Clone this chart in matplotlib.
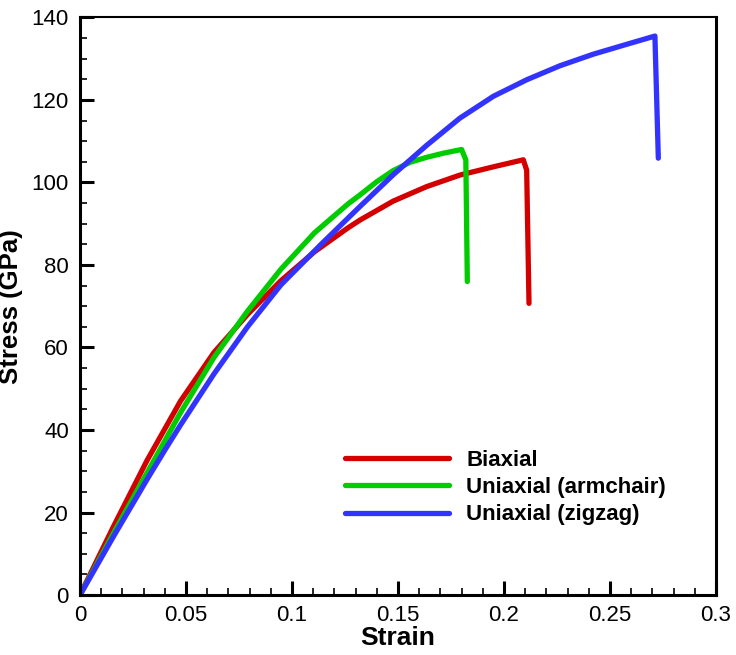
"""Stress-strain curves for biaxial and uniaxial loading"""

import matplotlib
matplotlib.use('Agg')
import matplotlib.pyplot as plt
from matplotlib.ticker import MultipleLocator, FuncFormatter

plt.rcParams['font.family'] = ['Liberation Sans', 'DejaVu Sans']

##
# DATA
biaxial_strain = [0.0, 0.0158, 0.0316, 0.0474, 0.0632, 0.079, 0.0948, 0.1106,
                  0.1264, 0.1321, 0.1478, 0.1635, 0.1792, 0.195, 0.2091,
                  0.2107, 0.2118]
biaxial_stress = [0.0, 16.6, 32.6, 47.0, 58.8, 68.0, 76.2, 83.2,
                  89.0, 90.9, 95.5, 99.0, 101.8, 103.8, 105.5,
                  103.0, 70.7]

armchair_strain = [0.0, 0.0158, 0.0316, 0.0474, 0.0632, 0.079, 0.0948, 0.1106,
                   0.1264, 0.1321, 0.14, 0.1478, 0.1557, 0.1635, 0.1714,
                   0.180, 0.182, 0.1827]
armchair_stress = [0.0, 15.0, 29.6, 44.2, 57.6, 68.8, 79.0, 87.8,
                   94.8, 97.0, 100.2, 102.9, 104.9, 106.1, 107.1,
                   108.0, 105.5, 76.0]

zigzag_strain = [0.0, 0.0158, 0.0316, 0.0401, 0.0474, 0.0632, 0.079, 0.0948,
                 0.1137, 0.1321, 0.1478, 0.1635, 0.1792, 0.195, 0.2107,
                 0.2264, 0.2421, 0.2579, 0.2712, 0.2728]
zigzag_stress = [0.0, 14.2, 28.0, 35.2, 41.2, 53.6, 65.0, 75.2,
                 85.0, 94.2, 101.9, 109.0, 115.6, 120.9, 124.9,
                 128.3, 131.1, 133.5, 135.5, 105.9]

labels = ['Biaxial', 'Uniaxial (armchair)', 'Uniaxial (zigzag)']
colors = ['#d40000', '#00cc00', '#3333ff']

##
fig = plt.figure(figsize=(7.36, 6.55), dpi=100)
ax = fig.add_axes([0.1087, 0.0916, 0.8641, 0.8817])

lw = 3.8
for xs, ys, lab, col in zip([biaxial_strain, armchair_strain, zigzag_strain],
                            [biaxial_stress, armchair_stress, zigzag_stress],
                            labels, colors):
    ax.plot(xs, ys, color=col, lw=lw, label=lab,
            solid_capstyle='round', solid_joinstyle='round')

ax.set_xlim([0.0, 0.3])
ax.set_ylim([0.0, 140.0])
ax.xaxis.set_major_locator(MultipleLocator(0.05))
ax.xaxis.set_minor_locator(MultipleLocator(0.01))
ax.yaxis.set_major_locator(MultipleLocator(20))
ax.yaxis.set_minor_locator(MultipleLocator(5))
ax.xaxis.set_major_formatter(FuncFormatter(lambda v, p: '%g' % round(v, 3)))
ax.yaxis.set_major_formatter(FuncFormatter(lambda v, p: '%g' % v))

ax.tick_params(which='both', direction='in', top=False, right=False)
ax.tick_params(which='major', length=10, width=2.2, labelsize=16)
ax.tick_params(axis='y', which='major', pad=8)
ax.tick_params(axis='x', which='major', pad=7)
ax.tick_params(which='minor', length=5, width=1.2)

for side in ['left', 'bottom', 'right']:
    ax.spines[side].set_linewidth(2.2)
ax.spines['top'].set_linewidth(1.5)

ax.set_xlabel('Strain', fontsize=19, fontweight='bold', labelpad=0)
ax.set_ylabel('Stress (GPa)', fontsize=18.5, fontweight='bold', labelpad=6)

leg = ax.legend(loc='upper left', bbox_to_anchor=(0.4167, 0.251),
                frameon=False, fontsize=16, handlelength=4.7,
                handletextpad=0.75, labelspacing=0.28, borderpad=0,
                borderaxespad=0)
for t in leg.get_texts():
    t.set_fontweight('bold')

plt.savefig('out.png', dpi=100)
plt.close()
